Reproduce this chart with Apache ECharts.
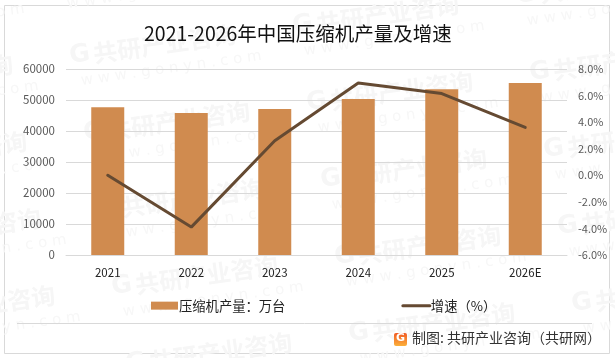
<!DOCTYPE html>
<html>
<head>
<meta charset="utf-8">
<style>
  html, body { margin: 0; padding: 0; background: #fff; }
</style>
<script src="https://cdn.jsdelivr.net/npm/echarts@6/dist/echarts.min.js"></script>
</head>
<body>
<div id="chart_output" style="width:615px; height:358px;"></div>
<script>
  const categories = ['2021', '2022', '2023', '2024', '2025', '2026E']
  const outputValues = [47700, 45800, 47100, 50300, 53500, 55500]
  const growthValues = [0.0, -3.9, 2.6, 6.95, 6.15, 3.6]
  const leftTicks = { min: 0, max: 60000, interval: 10000 }
  const rightTicks = { min: -6, max: 8, interval: 2 }

  const cjk = '"Noto Sans CJK SC", "Noto Sans", sans-serif'

  // background watermark, repeated on a skewed layout
  function watermarks () {
    let items = []
    for (let col = 0; col < 4; col++) {
      for (let row = -1; row < 5; row++) {
        let x = -153 + col * 223 + row * 14
        let y = 90 + row * 77 - col * 30
        items.push({
          type: 'group',
          x: x,
          y: y,
          rotation: 8 * Math.PI / 180,
          silent: true,
          z: -10,
          children: [
            { type: 'text', x: 0, y: -16, style: { text: 'G', font: 'bold 25px "DejaVu Sans"', fill: '#f6f6f6' } },
            { type: 'text', x: 24, y: -15, style: { text: '共研产业咨询', font: 'bold 24px ' + cjk, fill: '#f6f6f6' } },
            { type: 'text', x: 8, y: 15, style: { text: 'w w w . g o n y n . c o m', font: '15px "DejaVu Sans"', fill: '#f7f7f7' } }
          ]
        })
      }
    }
    return items
  }

  let chart = echarts.init(document.getElementById('chart_output'), null, { renderer: 'canvas' })

  let options = {
    backgroundColor: '#fff',
    animation: false,
    textStyle: { fontFamily: cjk },
    title: {
      text: '2021-2026年中国压缩机产量及增速',
      left: 139,
      top: 19,
      textStyle: { fontSize: 19.5, fontWeight: 'normal', color: '#111', fontFamily: cjk }
    },
    legend: {
      left: 146,
      top: 294,
      itemGap: 116,
      itemWidth: 27,
      itemHeight: 8,
      textStyle: { fontSize: 13.3, color: '#222', padding: [0, 0, 0, -4] },
      data: [
        { name: '压缩机产量：万台', icon: 'rect' },
        { name: '增速（%）', itemStyle: { opacity: 0 }, lineStyle: { width: 3, color: '#654a32' } }
      ]
    },
    grid: { left: 66, right: 48, top: 69, bottom: 103 },
    xAxis: [
      {
        type: 'category',
        data: categories,
        axisLine: { lineStyle: { color: '#d9d9d9', width: 1 } },
        axisTick: { show: false },
        axisLabel: { color: '#222', fontSize: 11.5, margin: 12 }
      }
    ],
    yAxis: [
      {
        type: 'value',
        min: leftTicks.min,
        max: leftTicks.max,
        interval: leftTicks.interval,
        axisLine: { show: false },
        axisTick: { show: false },
        axisLabel: { color: '#595959', fontSize: 11.5, margin: 11, formatter: (v) => String(v) },
        splitLine: { lineStyle: { color: '#d9d9d9', width: 1 } }
      },
      {
        type: 'value',
        min: rightTicks.min,
        max: rightTicks.max,
        interval: rightTicks.interval,
        axisLine: { show: false },
        axisTick: { show: false },
        axisLabel: {
          color: '#595959',
          fontSize: 11,
          margin: 11,
          formatter: (v) => v.toFixed(1) + '%'
        },
        splitLine: { show: false }
      }
    ],
    series: [
      {
        name: '压缩机产量：万台',
        type: 'bar',
        barWidth: 33,
        itemStyle: { color: '#d08b4f' },
        data: outputValues
      },
      {
        name: '增速（%）',
        type: 'line',
        yAxisIndex: 1,
        symbol: 'none',
        lineStyle: { color: '#654a32', width: 3, cap: 'round' },
        itemStyle: { color: '#654a32' },
        data: growthValues
      }
    ],
    graphic: {
      elements: [
        { type: 'rect', z: -20, silent: true, shape: { x: 4.5, y: 5.5, width: 605, height: 348 }, style: { fill: 'none', stroke: '#d9d9d9', lineWidth: 1 } }
      ].concat(watermarks()).concat([
        { type: 'line', silent: true, shape: { x1: 17, y1: 323.5, x2: 592, y2: 323.5 }, style: { stroke: '#d9d9d9', lineWidth: 1 } },
        {
          type: 'rect',
          silent: true,
          shape: { x: 394, y: 333, width: 13, height: 13, r: 2 },
          style: {
            fill: new echarts.graphic.LinearGradient(0, 0, 0, 1, [
              { offset: 0, color: '#f15a24' },
              { offset: 1, color: '#fbb03b' }
            ])
          }
        },
        { type: 'text', silent: true, x: 396, y: 333, style: { text: 'G', font: 'bold 11px "DejaVu Sans"', fill: '#fff' } },
        { type: 'text', silent: true, x: 412, y: 331, style: { text: '制图: 共研产业咨询（共研网）', font: '14px ' + cjk, fill: '#333' } }
      ])
    }
  }
  chart.setOption(options)
</script>
</body>
</html>
